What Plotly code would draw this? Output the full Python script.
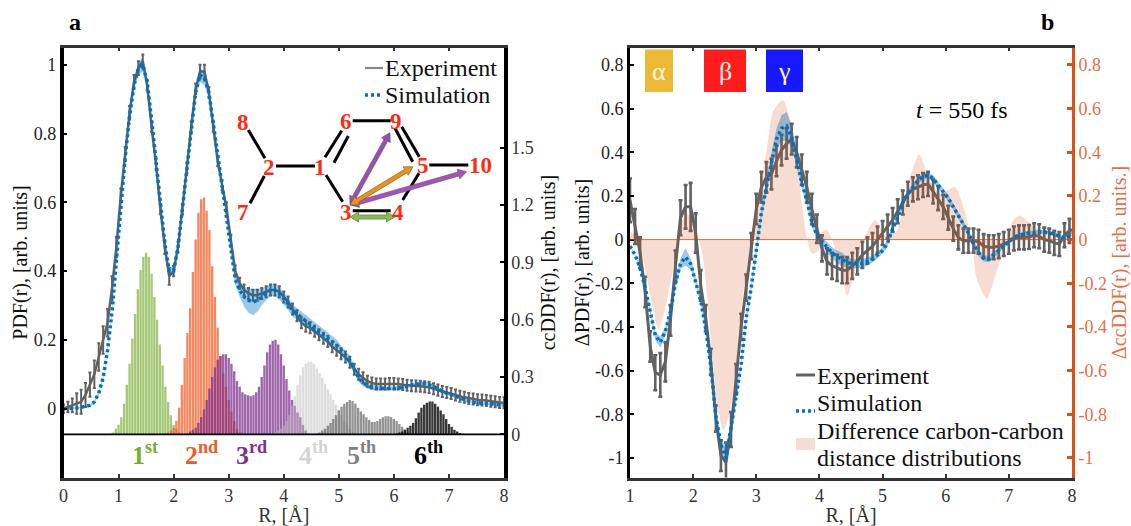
import math
import plotly.graph_objects as go

W, H = 1131, 526
FONT = "Liberation Serif"

# ---------- panel a ----------
XA_TICKS = [0, 1, 2, 3, 4, 5, 6, 7, 8]
YA_TICKS = [0, 0.2, 0.4, 0.6, 0.8, 1]
YA_LABELS = ["0", "0.2", "0.4", "0.6", "0.8", "1"]
YA2_TICKS = [0, 0.3, 0.6, 0.9, 1.2, 1.5]
YA2_LABELS = ["0", "0.3", "0.6", "0.9", "1.2", "1.5"]

STEP = 0.08
PDF_EXP = [0.0, .005, .01, .015, .02, .04, .07, .10, .15, .20, .25, .35, .47, .62, .74, .86, .95, .99, 1.01, .94, .82,
           .71, .58, .47, .385, .40, .47, .58, .70, .82, .93, .98, .98, .92, .82, .72, .65, .585, .49, .40, .365, .345,
           .335, .33, .33, .335, .34, .345, .345, .34, .325, .31, .29, .27, .25, .24, .235, .225, .215, .205, .195,
           .18, .17, .16, .15, .135, .115, .10, .09, .08, .075, .072, .072, .072, .073, .073, .072, .07, .068, .067,
           .066, .065, .064, .062, .058, .054, .05, .047, .044, .04, .036, .033, .03, .028, .026, .025, .024, .022,
           .02, .018, .017]
PDF_ERR = [.012, .015, .02, .03, .035, .035, .035, .04, .04, .04, .04, .035, .03, .02, .02, .02, .02, .02, .02, .015,
           .015, .015, .015, .02, .025, .015, .015, .015, .015, .015, .015, .02, .02, .015, .015, .015, .015, .015,
           .016, .016, .016, .016, .016, .016, .016, .016, .016, .016, .016, .016, .016, .016, .016, .016, .016, .016,
           .016, .016, .016, .016, .016, .016, .016, .016, .016, .016, .016, .016, .016, .016, .016, .016, .016, .016,
           .016, .016, .016, .016, .016, .016, .016, .016, .016, .016, .016, .016, .016, .016, .016, .016, .016, .016,
           .016, .016, .016, .016, .016, .016, .016, .016, .016]
PDF_SIM = [0.0, .0, .0, .002, .004, .006, .01, .02, .045, .09, .17, .28, .42, .58, .73, .85, .94, .99, 1.0, .95, .84,
           .72, .59, .48, .40, .40, .47, .58, .70, .82, .92, .97, .96, .92, .83, .73, .64, .56, .46, .375, .345, .325,
           .315, .31, .315, .325, .335, .345, .345, .335, .32, .305, .285, .275, .265, .255, .245, .235, .225, .215,
           .205, .195, .185, .17, .155, .14, .115, .09, .075, .068, .062, .06, .059, .058, .058, .058, .06, .062,
           .065, .068, .071, .073, .073, .07, .065, .058, .05, .045, .04, .035, .03, .026, .022, .019, .017, .016,
           .016, .015, .014, .012, .01]
PDF_BAND = [.002, .002, .002, .002, .002, .004, .004, .004, .006, .006, .008, .008, .008, .01, .01, .012, .014, .02,
            .02, .014, .012, .012, .01, .01, .01, .012, .012, .012, .012, .012, .016, .02, .02, .016, .014, .012,
            .012, .012, .012, .014, .02, .028, .036, .038, .034, .024, .02, .018, .018, .018, .018, .018, .018, .018,
            .018, .018, .018, .018, .018, .016, .016, .016, .016, .014, .014, .014, .012, .012, .01, .01, .008, .008,
            .006, .006, .006, .006, .006, .006, .006, .006, .006, .006, .006, .006, .006, .006, .006, .006, .004,
            .004, .004, .004, .004, .004, .004, .004, .004, .004, .004, .004, .004]

BIN = 0.05
H1_START, H1 = 0.85, [.005, .01, .03, .05, .09, .16, .26, .37, .5, .63, .76, .86, .93, .95, .93, .84, .72, .6, .47, .36,
                      .25, .17, .1, .05, .03, .01, .005]
H2_START, H2 = 1.85, [.005, .01, .02, .035, .07, .14, .26, .40, .53, .66, .85, 1.02, 1.16, 1.23, 1.24, 1.17, 1.07, .88,
                      .72, .56, .41, .32, .25, .18, .12, .07, .03, .01, .005]
H3_START, H3 = 2.25, [.005, .015, .025, .035, .06, .09, .13, .18, .24, .30, .35, .39, .41, .42, .42, .40, .37, .33, .28,
                      .25, .22, .21, .205, .20, .205, .22, .25, .30, .36, .43, .47, .49, .495, .47, .42, .36, .29, .23,
                      .18, .15, .115, .09, .05, .02, .005]
H4_START, H4 = 3.8, [.005, .01, .02, .03, .045, .07, .10, .15, .2, .26, .31, .35, .37, .38, .38, .37, .345, .32, .295,
                     .265, .235, .21, .18, .155, .13, .10, .07, .05, .03, .015, .005]
H5_START, H5 = 4.6, [.005, .01, .02, .03, .045, .06, .08, .10, .125, .145, .16, .17, .18, .175, .16, .14, .12, .105, .09,
                     .075, .065, .065, .07, .08, .09, .095, .095, .09, .08, .07, .055, .04, .025, .01, .005]
H6_START, H6 = 6.0, [.002, .005, .01, .015, .025, .035, .045, .06, .085, .115, .14, .155, .165, .172, .172, .16, .145,
                     .125, .105, .08, .055, .04, .025, .015, .007, .003]
SHELL_LABELS = ["1", "2", "3", "4", "5", "6"]
SHELL_SUFFIX = ["st", "nd", "rd", "th", "th", "th"]
SHELL_COLORS = ["#77AC30", "#F15A22", "#7E2F8E", "#D4D4D4", "#808080", "#000000"]
SHELL_BAR = ["rgba(119,172,48,.65)", "rgba(243,90,34,.72)", "rgba(126,47,142,.74)",
             "rgba(190,190,190,.5)", "rgba(90,90,90,.65)", "rgba(20,20,20,.85)"]

# ---------- panel b ----------
XB_TICKS = [1, 2, 3, 4, 5, 6, 7, 8]
YB_TICKS = [-1, -.8, -.6, -.4, -.2, 0, .2, .4, .6, .8]
YB_LABELS = ["-1", "-0.8", "-0.6", "-0.4", "-0.2", "0", "0.2", "0.4", "0.6", "0.8"]

DPDF_EXP = [.18, .06, -.06, -.24, -.49, -.61, -.62, -.56, -.37, -.12, .10, .15, .15, .03, -.21, -.36, -.56, -.82, -.99,
            -1.02, -.87, -.64, -.40, -.22, -.03, .14, .24, .285, .30, .36, .41, .44, .46, .40, .32, .24, .14, .05, -.04,
            -.10, -.12, -.13, -.14, -.14, -.12, -.10, -.07, -.05, -.03, .0, .03, .06, .09, .13, .17, .21, .23, .24, .25,
            .255, .22, .19, .15, .10, .05, .01, -.005, -.005, -.005, -.01, -.03, -.035, -.035, -.03, -.02, -.01, .005,
            .01, .01, .012, .02, .015, .0, -.005, -.015, -.02, .02, .04, .05]
DPDF_ERR = [.1, .08, .07, .07, .07, .08, .1, .09, .07, .07, .08, .1, .11, .09, .07, .06, .06, .06, .07, .09, .08, .07,
            .06, .06, .06, .07, .07, .07, .07, .07, .07, .07, .07, .07, .07, .07, .07, .065, .06, .06, .06, .06, .06,
            .06, .06, .06, .06, .06, .06, .06, .055, .055, .055, .055, .055, .055, .055, .055, .055, .055, .055, .055,
            .055, .055, .055, .055, .055, .055, .055, .055, .055, .055, .055, .055, .055, .055, .055, .055, .055, .055,
            .055, .055, .055, .055, .055, .055, .055, .055, .055]
DPDF_SIM = [-.03, -.07, -.13, -.22, -.33, -.44, -.47, -.42, -.33, -.20, -.11, -.08, -.11, -.19, -.28, -.41, -.58, -.81,
            -.94, -1.0, -.87, -.72, -.57, -.36, -.22, -.05, .12, .24, .36, .46, .51, .52, .47, .37, .26, .18, .08, .02,
            -.01, -.035, -.06, -.08, -.09, -.105, -.11, -.11, -.11, -.10, -.09, -.07, -.05, -.015, .05, .10, .17, .21,
            .24, .27, .29, .295, .28, .25, .22, .19, .15, .11, .07, .03, -.02, -.06, -.085, -.09, -.07, -.05, -.03,
            -.01, .01, .02, .025, .03, .03, .035, .035, .03, .025, .015, .005, .02, .03]
DPDF_BAND = [.005, .005, .01, .01, .015, .02, .025, .02, .015, .015, .025, .04, .025, .015, .015, .015, .015, .02, .03,
             .04, .03, .02, .015, .015, .015, .02, .025, .03, .04, .05, .06, .065, .05, .035, .025, .02, .015, .015, .02,
             .025, .025, .03, .03, .025, .02, .02, .02, .02, .015, .015, .015, .015, .015, .015, .015, .015, .015, .015,
             .015, .015, .015, .015, .015, .015, .015, .015, .015, .015, .015, .015, .015, .015, .015, .01, .01, .01,
             .01, .01, .01, .01, .01, .01, .01, .01, .01, .01, .01, .01, .01]
DCC_R = [1.0, 1.09, 1.22, 1.245, 1.37, 1.45, 1.55, 1.67, 1.75, 1.83, 1.9, 2.0, 2.11, 2.17, 2.3, 2.38, 2.48, 2.59, 2.7,
         2.77, 2.85, 2.91, 2.96, 3.06, 3.17, 3.27, 3.42, 3.54, 3.65, 3.72, 3.8, 3.88, 3.99, 4.03, 4.12, 4.2, 4.33,
         4.44, 4.57, 4.7, 4.88, 5.07, 5.23, 5.39, 5.58, 5.75, 5.91, 6.15, 6.28, 6.41, 6.49, 6.65, 6.81, 6.86, 6.97,
         7.07, 7.18, 7.39, 7.6, 7.8, 8.0]
DCC_V = [.035, .02, -.11, -.14, -.325, -.41, -.325, -.157, -.02, .09, .12, .07, -.02, -.11, -.52, -.75, -.875, -.78,
         -.52, -.295, -.14, -.035, .09, .24, .42, .59, .64, .55, .38, .165, .01, -.065, -.05, .03, .045, 0.0, -.12,
         -.257, -.14, .0, .09, .01, .04, .24, .39, .27, .21, .24, .15, .0, -.18, -.27, -.14, -.1, .0, .09, .11, .06,
         .02, .0, .0]

BOXES = [("α", 645, 673, "#EDB935"), ("β", 704, 746, "#FF1C1C"), ("γ", 766, 803, "#1818FF")]
ATOMS = [("8", 243, 123), ("2", 269, 167), ("7", 243, 213), ("1", 320, 167), ("6", 346, 122),
         ("9", 396, 122), ("5", 423, 166), ("10", 480, 166), ("3", 346, 212), ("4", 398, 213)]
BONDS = [(248.3, 130, 265, 158.3), (250, 203.3, 264.3, 176), (276, 166, 315, 166), (325, 157.3, 341.7, 130.7),
         (334, 162.7, 348.3, 136), (326, 175, 342.7, 201.7), (352.7, 120.7, 390.7, 120.7), (395, 128.3, 412.7, 161.7),
         (401.7, 126.7, 419.3, 156.7), (429.3, 165, 468.3, 165), (419, 173.3, 402.7, 200), (352.7, 210.7, 390.7, 210.7)]
ARROWS = [(350, 205, 390, 132.7, "#9B4FB0"), (350, 205, 466.7, 171.7, "#A94FC0"),
          (350, 205, 413, 166.7, "#F0920F"), (350, 217, 395, 217, "#85C241")]

LEG_EXP = "Experiment"
LEG_SIM = "Simulation"
LEG_DIFF = ["Difference carbon-carbon", "distance distributions"]


def fx(px):
    return px / W


def fy(py):
    return 1 - py / H


AX_L, AX_R = 63.5, 504
BX_L, BX_R = 630, 1072
P_T, P_B = 47.5, 477.5

RA = [i * STEP for i in range(len(PDF_EXP))]
RB = [1 + i * STEP for i in range(len(DPDF_EXP))]


def bins(start, vals):
    return [start + i * BIN for i in range(len(vals))]


fig = go.Figure()

for (start, vals, color) in zip([H1_START, H2_START, H3_START, H4_START, H5_START, H6_START],
                                [H1, H2, H3, H4, H5, H6], SHELL_BAR):
    fig.add_trace(go.Bar(x=bins(start, vals), y=vals, width=BIN * 0.86, marker=dict(color=color, line_width=0),
                         xaxis="x", yaxis="y2", showlegend=False, hoverinfo="skip"))

GREY = "#626262"
BLUE = "#0072BD"
ORANGE = "#D95319"
OR_TXT = "#E46F45"


def expcurve(x, exp, err, xa, ya, ew, ct, cw):
    fig.add_trace(go.Scatter(x=x, y=exp, mode="lines", name=LEG_EXP, showlegend=False,
                             line=dict(color=GREY, width=ew),
                             error_y=dict(type="data", array=err, color=GREY, thickness=ct, width=cw),
                             xaxis=xa, yaxis=ya, hoverinfo="skip"))


def simcurve(x, sim, band, xa, ya):
    fig.add_trace(go.Scatter(x=x, y=[s + b for s, b in zip(sim, band)], mode="lines", line=dict(width=0),
                             xaxis=xa, yaxis=ya, showlegend=False, hoverinfo="skip"))
    fig.add_trace(go.Scatter(x=x, y=[s - b for s, b in zip(sim, band)], mode="lines", line=dict(width=0),
                             fill="tonexty", fillcolor="rgba(0,114,189,.38)",
                             xaxis=xa, yaxis=ya, showlegend=False, hoverinfo="skip"))
    fig.add_trace(go.Scatter(x=x, y=sim, mode="lines", name=LEG_SIM, showlegend=False,
                             line=dict(color=BLUE, width=3.5, dash="3px,3px"),
                             xaxis=xa, yaxis=ya, hoverinfo="skip"))


expcurve(RA, PDF_EXP, PDF_ERR, "x", "y", 2.5, 2, 1.5)
simcurve(RA, PDF_SIM, PDF_BAND, "x", "y")

expcurve(RB, DPDF_EXP, DPDF_ERR, "x2", "y3", 3, 2.6, 2)
fig.add_trace(go.Scatter(x=DCC_R, y=DCC_V, mode="lines", line=dict(width=0, shape="spline", smoothing=0.7),
                         fill="tozeroy", fillcolor="rgba(217,83,25,.2)", name=" ".join(LEG_DIFF), showlegend=False,
                         xaxis="x2", yaxis="y4", hoverinfo="skip"))
simcurve(RB, DPDF_SIM, DPDF_BAND, "x2", "y4")

shapes = []
annos = []


def ptext(text, x, y, size, color="#000", anchor="center", angle=0):
    annos.append(dict(text=text, x=fx(x), y=fy(y), xref="paper", yref="paper", showarrow=False, textangle=angle,
                      font=dict(family=FONT, size=size, color=color), xanchor=anchor, yanchor="middle"))


def pline(x0, y0, x1, y1, color, width, dash="solid"):
    shapes.append(dict(type="line", xref="paper", yref="paper", x0=fx(x0), x1=fx(x1), y0=fy(y0), y1=fy(y1),
                       line=dict(color=color, width=width, dash=dash)))


shapes.append(dict(type="line", xref="x", yref="y2", x0=0, x1=8, y0=0, y1=0, line=dict(color="#000", width=1.6)))
shapes.append(dict(type="line", xref="x2", yref="y4", x0=1, x1=8, y0=0, y1=0,
                   line=dict(color="rgba(200,70,20,.75)", width=1)))

for (x0, y0, x1, y1) in BONDS:
    pline(x0, y0, x1, y1, "#000", 3)


def arrow_path(x0, y0, x1, y1, hw=2.1, hl=8.5, hh=5):
    L = math.hypot(x1 - x0, y1 - y0)
    ux, uy = (x1 - x0) / L, (y1 - y0) / L
    nx, ny = -uy, ux
    pts = [(0, 0), (hl, hh), (hl, hw), (L - hl, hw), (L - hl, hh), (L, 0),
           (L - hl, -hh), (L - hl, -hw), (hl, -hw), (hl, -hh)]
    p = ["%s%.4f,%.4f" % ("M" if i == 0 else "L", fx(x0 + ux * a + nx * b), fy(y0 + uy * a + ny * b))
         for i, (a, b) in enumerate(pts)]
    return " ".join(p) + " Z"


for (x0, y0, x1, y1, c) in ARROWS:
    shapes.append(dict(type="path", xref="paper", yref="paper", path=arrow_path(x0, y0, x1, y1), fillcolor=c,
                       line=dict(color="#555", width=0.6)))

for (t, x, y) in ATOMS:
    ptext("<b>%s</b>" % t, x, y, 23, "#FF2A12")

for lab, suf, col, x in zip(SHELL_LABELS, SHELL_SUFFIX, SHELL_COLORS, [145, 201, 251, 313, 361, 428]):
    ptext("<b>%s<sup>%s</sup></b>" % (lab, suf), x, 453, 26, col)

ptext("<b>a</b>", 75, 22, 24)
ptext("<b>b</b>", 1047, 22, 24)

for (t, x0, x1, c) in BOXES:
    shapes.append(dict(type="rect", xref="paper", yref="paper", x0=fx(x0), x1=fx(x1), y0=fy(92), y1=fy(49.5),
                       fillcolor=c, line_width=0))
    ptext(t, (x0 + x1) / 2, 71, 26, "#FFF4E6")

ptext("<i>t</i> = 550 fs", 962, 110, 24)

# legends, panel a
pline(365, 68, 383, 68, "#888888", 2.2)
pline(365, 95, 383, 95, BLUE, 3.5, "3px,3px")
ptext(LEG_EXP, 383, 68, 24, "#111", "left")
ptext(LEG_SIM, 383, 95, 24, "#111", "left")
# legends, panel b
pline(796, 375, 815, 375, GREY, 3)
pline(796, 411, 815, 411, BLUE, 3.5, "3px,3px")
shapes.append(dict(type="rect", xref="paper", yref="paper", x0=fx(796), x1=fx(815), y0=fy(450), y1=fy(438),
                   fillcolor="rgba(217,83,25,.2)", line_width=0))
ptext(LEG_EXP, 815, 376, 24, "#111", "left")
ptext(LEG_SIM, 815, 403, 24, "#111", "left")
ptext(LEG_DIFF[0], 815, 430.5, 24, "#111", "left")
ptext(LEG_DIFF[1], 815, 457.5, 24, "#111", "left")

TICK_COL = "#333333"
TF = dict(family=FONT, size=18, color="#222")
TFX = dict(family=FONT, size=18, color="#333")


def ttl(text, size=20, color="#111", standoff=4):
    return dict(text=text, font=dict(family=FONT, size=size, color=color), standoff=standoff)


layout = dict(
    width=W, height=H, margin=dict(l=0, r=0, t=0, b=0, autoexpand=False), autosize=False,
    paper_bgcolor="white", plot_bgcolor="white", showlegend=False,
    barmode="overlay", font=dict(family=FONT), shapes=shapes, annotations=annos,
    xaxis=dict(domain=[fx(AX_L), fx(AX_R)], range=[0, 8], anchor="y2", tickvals=XA_TICKS, ticks="inside", ticklen=4,
               tickwidth=2, tickcolor=TICK_COL, showline=True, linewidth=2.5, linecolor=TICK_COL, mirror="ticks",
               showgrid=False, zeroline=False, tickfont=TFX, title=ttl("R, [Å]", 20, "#333", 5)),
    yaxis=dict(domain=[fy(P_B), fy(P_T)], range=[-0.2, 1.05], anchor="x", overlaying="y2", side="left",
               tickvals=YA_TICKS, ticktext=YA_LABELS, ticks="inside", ticklen=4, tickwidth=2, tickcolor="#000",
               showline=True, linewidth=3.5, linecolor="#000", showgrid=False, zeroline=False, tickfont=TF,
               title=ttl("PDF(r), [arb. units]", standoff=2)),
    yaxis2=dict(domain=[fy(P_B), fy(P_T)], range=[-0.2255, 2.0245], anchor="x", side="right",
                tickvals=YA2_TICKS, ticktext=YA2_LABELS, ticks="inside", ticklen=4, tickwidth=2, tickcolor="#000",
                showline=True, linewidth=3.5, linecolor="#000", showgrid=False, zeroline=False, tickfont=TFX,
                title=ttl("ccDDF(r), [arb. units]", standoff=9)),
    xaxis2=dict(domain=[fx(BX_L), fx(BX_R)], range=[1, 8], anchor="y3", tickvals=XB_TICKS, ticks="inside", ticklen=4,
                tickwidth=2, tickcolor=TICK_COL, showline=True, linewidth=2.5, linecolor=TICK_COL, mirror="ticks",
                showgrid=False, zeroline=False, tickfont=TFX, title=ttl("R, [Å]", 20, "#333", 5)),
    yaxis3=dict(domain=[fy(P_B), fy(P_T)], range=[-1.09, 0.88], anchor="x2", side="left",
                tickvals=YB_TICKS, ticktext=YB_LABELS, ticks="inside", ticklen=4, tickwidth=2, tickcolor="#000",
                showline=True, linewidth=3, linecolor="#000", showgrid=False, zeroline=False, tickfont=TF,
                title=ttl("ΔPDF(r), [arb. units]", standoff=0)),
    yaxis4=dict(domain=[fy(P_B), fy(P_T)], range=[-1.09, 0.88], anchor="x2", overlaying="y3", side="right",
                tickvals=YB_TICKS, ticktext=YB_LABELS, ticks="inside", ticklen=5, tickwidth=2.5, tickcolor=ORANGE,
                showline=True, linewidth=3, linecolor=ORANGE, showgrid=False, zeroline=False,
                tickfont=dict(family=FONT, size=18, color=OR_TXT),
                title=ttl("ΔccDDF(r), [arb. units.]", color=OR_TXT, standoff=8)),
)
fig.update_layout(**layout)

fig.write_html("out.html", post_script="document.body.style.margin='0';", config={"displayModeBar": False})
